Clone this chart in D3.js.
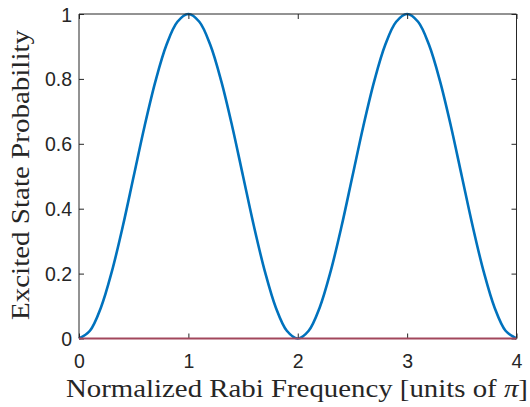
<!DOCTYPE html>
<html>
<head>
<meta charset="utf-8">
<script src="https://cdn.jsdelivr.net/npm/d3@7"></script>
<style>
  html, body { margin: 0; padding: 0; background: #fff; }
  svg { display: block; }
</style>
</head>
<body>
<svg id="chart" width="530" height="407"></svg>
<script>
// Rabi frequency samples (units of pi) and excited-state probability
const rabiFreq = [0,0.1,0.2,0.3,0.4,0.5,0.6,0.7,0.8,0.9,1.0,1.1,1.2,1.3,1.4,1.5,1.6,1.7,1.8,1.9,2.0,
                  2.1,2.2,2.3,2.4,2.5,2.6,2.7,2.8,2.9,3.0,3.1,3.2,3.3,3.4,3.5,3.6,3.7,3.8,3.9,4.0];
const excitedProb = [0,0.024,0.095,0.206,0.345,0.5,0.655,0.794,0.905,0.976,1.0,0.976,0.905,0.794,0.655,0.5,0.345,0.206,0.095,0.024,0,
                     0.024,0.095,0.206,0.345,0.5,0.655,0.794,0.905,0.976,1.0,0.976,0.905,0.794,0.655,0.5,0.345,0.206,0.095,0.024,0];
// Ground reference line
const baselineProb = [0, 0];
const baselineFreq = [0, 4];
const xTicks = [0, 1, 2, 3, 4];
const yTicks = [0, 0.2, 0.4, 0.6, 0.8, 1];
const yTickLabels = ["0", "0.2", "0.4", "0.6", "0.8", "1"];

(function () {
const svg = d3.select("#chart");
const L = 79, R = 516.5, T = 14, B = 338.5;

const x = d3.scaleLinear().domain([0, 4]).range([L, R]);
const y = d3.scaleLinear().domain([0, 1]).range([B, T]);

const axisColor = "#262626";
const tickFont = "'Liberation Sans', Arial, Helvetica, sans-serif";
const labelFont = "'Liberation Serif', 'Times New Roman', serif";

// Curves
const line = d3.line()
  .x(d => x(d[0]))
  .y(d => y(d[1]))
  .curve(d3.curveCatmullRom.alpha(0.5));

svg.append("path")
  .datum(rabiFreq.map((f, i) => [f, excitedProb[i]]))
  .attr("d", line)
  .attr("fill", "none")
  .attr("stroke", "#0072BD")
  .attr("stroke-width", 2.6)
  .attr("stroke-linejoin", "round");

// Axes (box with inward ticks on all sides)
const tickLen = 5;
const axB = d3.axisBottom(x).tickValues(xTicks).tickSize(tickLen).tickFormat(d3.format("d"));
const axT = d3.axisTop(x).tickValues(xTicks).tickSize(tickLen).tickFormat("");
const axL = d3.axisLeft(y).tickValues(yTicks).tickSize(tickLen).tickFormat((d, i) => yTickLabels[i]);
const axR = d3.axisRight(y).tickValues(yTicks).tickSize(tickLen).tickFormat("");

function style(g) {
  g.select(".domain").attr("stroke", axisColor).attr("stroke-width", 1);
  g.selectAll(".tick line").attr("stroke", axisColor).attr("stroke-width", 1);
  g.selectAll(".tick text")
    .attr("fill", axisColor)
    .style("font-family", tickFont)
    .style("font-size", "19.5px");
}

const gB = svg.append("g").attr("transform", `translate(0,${B})`).call(axB);
gB.selectAll(".tick line").attr("y2", -tickLen);
gB.selectAll(".tick text").attr("y", 0).attr("dy", 0)
  .attr("transform", "translate(0,29)");
style(gB);
gB.selectAll(".domain").attr("d", `M${L},0H${R}`);

const gT = svg.append("g").attr("transform", `translate(0,${T})`).call(axT);
gT.selectAll(".tick line").attr("y2", tickLen);
style(gT);
gT.selectAll(".domain").attr("d", `M${L},0H${R}`);

const gL = svg.append("g").attr("transform", `translate(${L},0)`).call(axL);
gL.selectAll(".tick line").attr("x2", tickLen);
gL.selectAll(".tick text").attr("x", -7).attr("dy", "0.36em");
style(gL);
gL.selectAll(".domain").attr("d", `M0,${B}V${T}`);

const gR = svg.append("g").attr("transform", `translate(${R},0)`).call(axR);
gR.selectAll(".tick line").attr("x2", -tickLen);
style(gR);
gR.selectAll(".domain").attr("d", `M0,${B}V${T}`);

// Ground line drawn over the bottom axis
svg.append("path")
  .datum(baselineFreq.map((f, i) => [f, baselineProb[i]]))
  .attr("d", d3.line().x(d => x(d[0])).y(d => y(d[1])))
  .attr("stroke", "#A2475C")
  .attr("stroke-width", 2)
  .attr("fill", "none");

// Axis titles
const xt = svg.append("text")
  .attr("x", 66)
  .attr("y", 396.5)
  .attr("fill", axisColor)
  .attr("textLength", 462)
  .attr("lengthAdjust", "spacingAndGlyphs")
  .style("font-family", labelFont)
  .style("font-size", "26px");
xt.append("tspan").text("Normalized Rabi Frequency [units of ");
xt.append("tspan").style("font-style", "italic").text("π");
xt.append("tspan").text("]");

svg.append("text")
  .attr("transform", `translate(28.5,320) rotate(-90)`)
  .attr("fill", axisColor)
  .attr("textLength", 290)
  .attr("lengthAdjust", "spacingAndGlyphs")
  .style("font-family", labelFont)
  .style("font-size", "26px")
  .text("Excited State Probability");
})();
</script>
</body>
</html>
